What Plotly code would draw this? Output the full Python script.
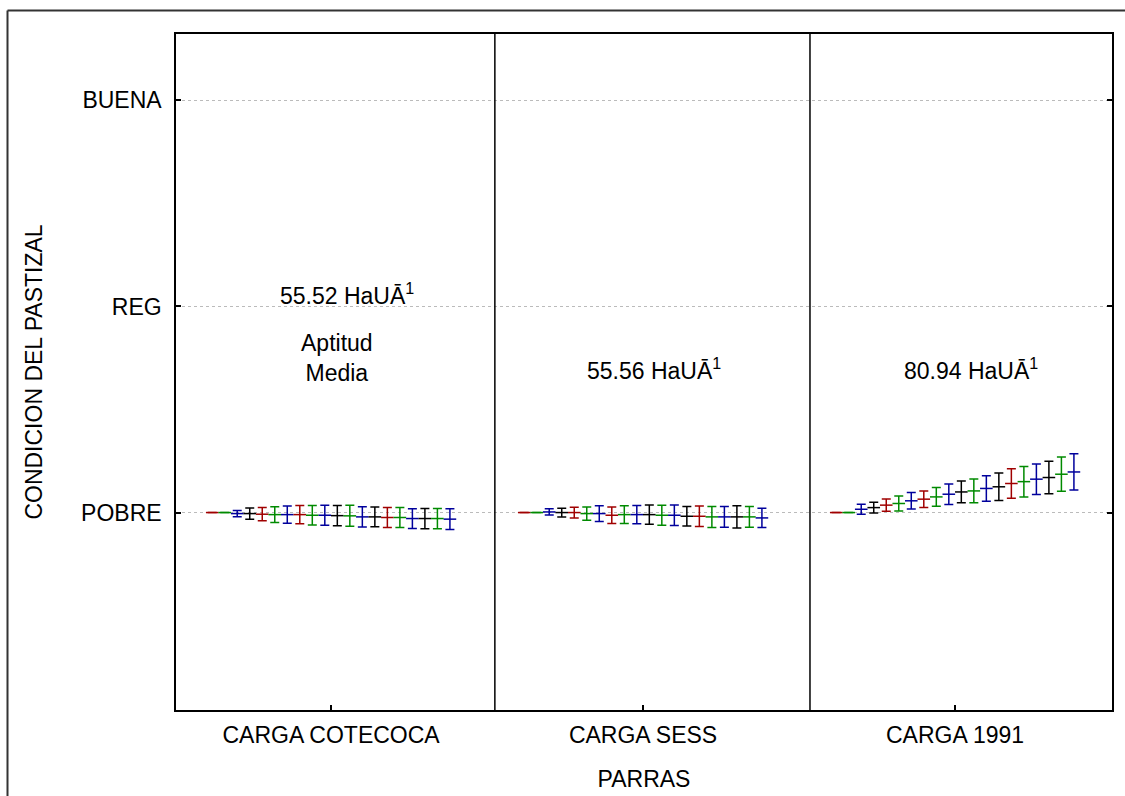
import plotly.graph_objects as go

# ---- data ----
categories = ["CARGA COTECOCA", "CARGA SESS", "CARGA 1991"]
series_names = [f"Serie {i}" for i in range(1, 21)]
series_colors = ["#a00000", "#008a00", "#00009c", "#000000",
                 "#a00000", "#008a00", "#00009c", "#a00000",
                 "#008a00", "#00009c", "#000000", "#008a00",
                 "#00009c", "#000000", "#a00000", "#008a00",
                 "#00009c", "#000000", "#008a00", "#00009c"]

cotecoca_mean = [1.000, 1.000, 0.995, 0.995, 0.992, 0.990, 0.990, 0.990, 0.987, 0.987,
                 0.985, 0.984, 0.979, 0.979, 0.976, 0.976, 0.971, 0.971, 0.971, 0.968]
cotecoca_err = [0, 0, 0.015, 0.027, 0.032, 0.038, 0.042, 0.044, 0.047, 0.049,
                0.049, 0.051, 0.049, 0.048, 0.049, 0.048, 0.048, 0.049, 0.049, 0.050]
sess_mean = [1.000, 1.000, 1.003, 1.000, 1.000, 0.995, 0.995, 0.987, 0.990, 0.990,
             0.990, 0.987, 0.987, 0.982, 0.982, 0.979, 0.979, 0.979, 0.979, 0.974]
sess_err = [0, 0, 0.015, 0.021, 0.026, 0.032, 0.038, 0.040, 0.043, 0.044,
            0.047, 0.049, 0.050, 0.047, 0.050, 0.051, 0.050, 0.054, 0.050, 0.047]
c1991_mean = [1.000, 1.000, 1.016, 1.024, 1.036, 1.044, 1.057, 1.065, 1.076, 1.089,
              1.100, 1.105, 1.117, 1.125, 1.141, 1.150, 1.162, 1.170, 1.186, 1.197]
c1991_err = [0, 0, 0.024, 0.026, 0.030, 0.036, 0.040, 0.040, 0.045, 0.050,
             0.053, 0.058, 0.062, 0.067, 0.071, 0.074, 0.074, 0.079, 0.083, 0.088]

y_tickvals = [1, 2, 3]
y_ticktext = ["POBRE", "REG", "BUENA"]
panel_texts = ["55.52 HaUĀ<sup>1</sup>", "Aptitud<br>Media", "55.56 HaUĀ<sup>1</sup>", "80.94 HaUĀ<sup>1</sup>"]

# ---- figure ----
means = [cotecoca_mean, sess_mean, c1991_mean]
errs = [cotecoca_err, sess_err, c1991_err]
n = len(series_names)
step = 0.0401

fig = go.Figure()
for i in range(n):
    xs = [c + (i - (n - 1) / 2) * step for c in range(len(categories))]
    fig.add_trace(go.Scatter(
        x=xs, y=[m[i] for m in means], name=series_names[i], mode="markers",
        marker=dict(symbol="line-ew", size=9, color=series_colors[i],
                    line=dict(width=1.5, color=series_colors[i])),
        error_y=dict(type="data", array=[e[i] for e in errs], visible=True,
                     color=series_colors[i], thickness=1.5, width=4.5),
        showlegend=False, hoverinfo="x+y"))

font_family = "Arial, Liberation Sans, sans-serif"
fs = 23

shapes = []
for xd in [0.525, 1.535]:
    shapes.append(dict(type="line", xref="x", yref="paper", x0=xd, x1=xd, y0=0, y1=1,
                       line=dict(color="black", width=1.5)))
# outer frame (left and top edges visible)
px = lambda p: (p - 176) / 936
py = lambda p: (710 - p) / 676
shapes.append(dict(type="line", xref="paper", yref="paper", x0=px(7.5), x1=px(7.5),
                   y0=py(10.5), y1=py(820), line=dict(color="#333333", width=2)))
shapes.append(dict(type="line", xref="paper", yref="paper", x0=px(7.5), x1=px(1140),
                   y0=py(10.5), y1=py(10.5), line=dict(color="#333333", width=2)))

annotations = [
    dict(x=0.051, y=2.062, text=panel_texts[0]),
    dict(x=0.02, y=1.750, text=panel_texts[1]),
    dict(x=1.035, y=1.698, text=panel_texts[2]),
    dict(x=2.051, y=1.698, text=panel_texts[3]),
]
for a in annotations:
    a.update(xref="x", yref="y", showarrow=False, xanchor="center", yanchor="middle",
             font=dict(size=fs, color="black", family=font_family))

fig.update_layout(
    width=1125, height=796,
    margin=dict(l=176, r=13, t=34, b=86),
    paper_bgcolor="white", plot_bgcolor="white",
    font=dict(family=font_family, size=fs, color="black"),
    shapes=shapes, annotations=annotations,
    xaxis=dict(range=[-0.497, 2.503], tickvals=[0, 1, 2], ticktext=categories,
               showgrid=False, zeroline=False, showline=True, linecolor="black",
               linewidth=1.5, mirror=True, ticks="inside", ticklen=5,
               tickcolor="black", tickwidth=1.5, ticklabelstandoff=4,
               automargin=False,
               title=dict(text="PARRAS", standoff=24, font=dict(size=fs))),
    yaxis=dict(range=[0.042, 3.322], tickvals=y_tickvals, ticktext=y_ticktext,
               showgrid=True, gridcolor="#bbbbbb", griddash="dot", gridwidth=1,
               zeroline=False, showline=True, linecolor="black", linewidth=1.5,
               mirror="ticks", ticks="inside", ticklen=5, tickcolor="black",
               tickwidth=1.5, ticklabelstandoff=8, automargin=False,
               title=dict(text="CONDICION DEL PASTIZAL", standoff=32, font=dict(size=fs))),
)

fig.write_html("out.html")
